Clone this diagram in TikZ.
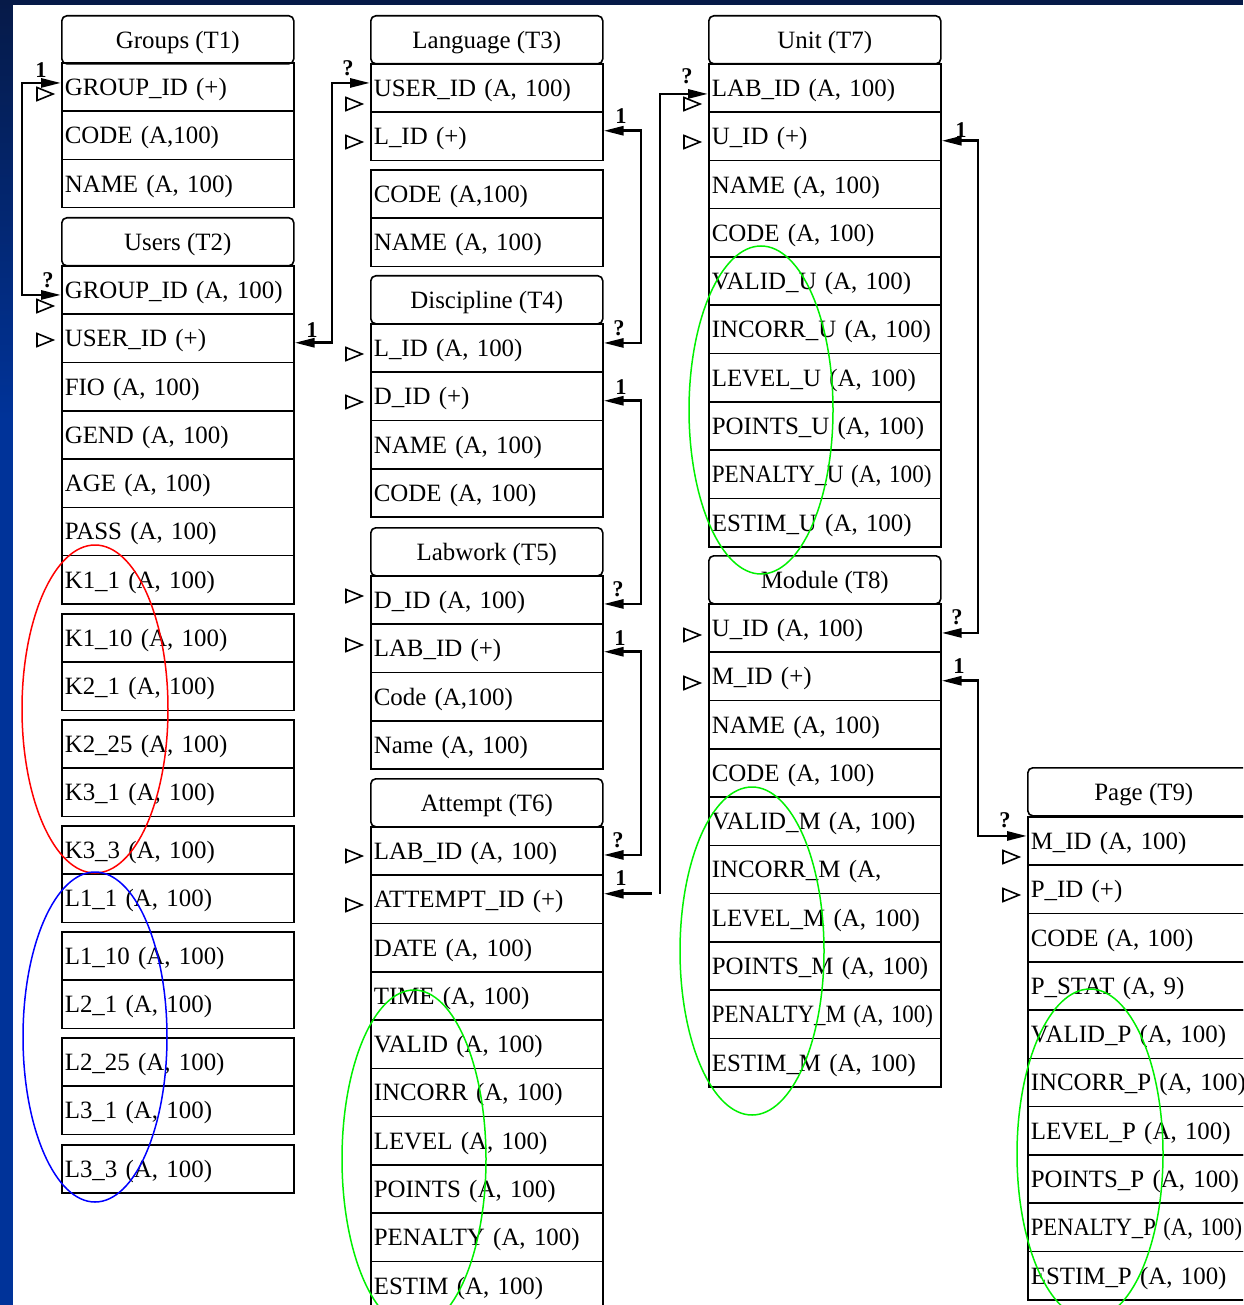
\documentclass[tikz,border=0pt]{standalone}
\usepackage{fontspec}
\setmainfont{Liberation Serif}
\usepackage{graphicx}
\usetikzlibrary{arrows.meta}
\definecolor{navytop}{HTML}{061A48}
\definecolor{bandblue}{HTML}{003399}
\definecolor{ovgreen}{HTML}{00F000}

% a run of table rows: prefix, x, top y, first index, list of texts
\newcommand\cells[5]{%
  \foreach \txt [count=\i from #4] in {#5} {%
    \node[cell] (#1-\i) at (#2, {#3 + (\i-#4)*48.3}) {\txt};
  }}
\newcommand\narrow[2]{\scalebox{#1}[1]{#2}}

\begin{document}
\begin{tikzpicture}[x=1pt, y=-1pt,
  >={Triangle[length=20pt,width=9pt]},
  cell/.style={draw, line width=1.6pt, minimum width=232pt, minimum height=48.3pt,
    text width=226pt, inner xsep=3pt, inner ysep=0pt, text height=17pt,
    text depth=0pt, align=left, anchor=north west,
    font=\fontsize{24.9}{30}\selectfont},
  head/.style={draw, rounded corners=5pt, line width=1.6pt, minimum width=232pt,
    minimum height=48pt, inner sep=0pt, text height=17pt, text depth=0pt,
    anchor=north west, font=\fontsize{24.9}{30}\selectfont},
  link/.style={line width=2.8pt},
  card/.style={font=\fontsize{22.5}{26}\bfseries\selectfont, inner sep=0pt},
  keytri/.pic={\draw[line width=1.6pt] (-8,-6.5) -- (8,0) -- (-8,6.5) -- cycle;},
  oval/.style={line width=1.5pt}
]
\useasboundingbox (0,0) rectangle (1243,1305);
\clip (0,0) rectangle (1243,1305);

% page background with the blue frame strips
\fill[white] (0,0) rectangle (1243,1305);
\shade[top color=navytop, bottom color=bandblue] (0,0) rectangle (12.5,420);
\fill[bandblue] (0,419) rectangle (12.5,1305);
\fill[navytop] (0,0) rectangle (1243,5);

% ---- Groups (T1), Users (T2)
\node[head] (t1) at (61,15) {Groups (T1)};
\cells{t1}{61}{62}{1}{{GROUP\_ID (+)},{CODE (A,100)},{NAME (A, 100)}}
\node[head] (t2) at (61,217) {Users (T2)};
\cells{t2}{61}{265}{1}{{GROUP\_ID (A, 100)},{USER\_ID (+)},{FIO (A, 100)},{GEND (A, 100)},{AGE (A, 100)},{PASS (A, 100)},{K1\_1 (A, 100)}}
\cells{t2}{61}{613}{8}{{K1\_10 (A, 100)},{K2\_1 (A, 100)}}
\cells{t2}{61}{719}{10}{{K2\_25 (A, 100)},{K3\_1 (A, 100)}}
\cells{t2}{61}{825}{12}{{K3\_3 (A, 100)},{L1\_1 (A, 100)}}
\cells{t2}{61}{931}{14}{{L1\_10 (A, 100)},{L2\_1 (A, 100)}}
\cells{t2}{61}{1037}{16}{{L2\_25 (A, 100)},{L3\_1 (A, 100)}}
\cells{t2}{61}{1144}{18}{{L3\_3 (A, 100)}}

% ---- Language (T3) .. Attempt (T6)
\node[head] (t3) at (370,15) {Language (T3)};
\cells{t3}{370}{63}{1}{{USER\_ID (A, 100)},{L\_ID (+)}}
\cells{t3}{370}{169}{3}{{CODE (A,100)},{NAME (A, 100)}}
\node[head] (t4) at (370,275) {Discipline (T4)};
\cells{t4}{370}{323}{1}{{L\_ID (A, 100)},{D\_ID (+)},{NAME (A, 100)},{CODE (A, 100)}}
\node[head] (t5) at (370,527) {Labwork (T5)};
\cells{t5}{370}{575}{1}{{D\_ID (A, 100)},{LAB\_ID (+)},{Code (A,100)},{Name (A, 100)}}
\node[head] (t6) at (370,778) {Attempt (T6)};
\cells{t6}{370}{826}{1}{{LAB\_ID (A, 100)},{ATTEMPT\_ID (+)},{DATE (A, 100)},{TIME (A, 100)},{VALID (A, 100)},{INCORR (A, 100)},{LEVEL (A, 100)},{POINTS (A, 100)},{PENALTY (A, 100)},{ESTIM (A, 100)}}

% ---- Unit (T7), Module (T8)
\node[head] (t7) at (708,15) {Unit (T7)};
\cells{t7}{708}{63}{1}{{LAB\_ID (A, 100)},{U\_ID (+)},{NAME (A, 100)},{CODE (A, 100)},{VALID\_U (A, 100)},{INCORR\_U (A, 100)},{LEVEL\_U (A, 100)},{POINTS\_U (A, 100)},{\narrow{0.93}{PENALTY\_U (A, 100)}},{ESTIM\_U (A, 100)}}
\node[head] (t8) at (708,555) {Module (T8)};
\cells{t8}{708}{603}{1}{{U\_ID (A, 100)},{M\_ID (+)},{NAME (A, 100)},{CODE (A, 100)},{VALID\_M (A, 100)},{INCORR\_M (A,},{LEVEL\_M (A, 100)},{POINTS\_M (A, 100)},{\narrow{0.92}{PENALTY\_M (A, 100)}},{ESTIM\_M (A, 100)}}

% ---- Page (T9)
\node[head] (t9) at (1027,767) {Page (T9)};
\cells{t9}{1027}{816}{1}{{M\_ID (A, 100)},{P\_ID (+)},{CODE (A, 100)},{P\_STAT (A, 9)},{VALID\_P (A, 100)},{INCORR\_P (A, 100)},{LEVEL\_P (A, 100)},{POINTS\_P (A, 100)},{\narrow{0.91}{PENALTY\_P (A, 100)}},{ESTIM\_P (A, 100)}}

% key markers
\foreach \px/\py in {45/94, 45/306, 45/340, 354/104, 354/142, 354/354, 354/402,
  354/596, 354/645, 354/856, 354/905, 692/104, 692/142, 692/635, 692/683,
  1011/857, 1011/895}
  \pic at (\px,\py) {keytri};

% relation ends
\coordinate (a1) at ([yshift=4pt]t1-1.west);
\coordinate (b1) at ([yshift=-5pt]t2-1.west);
\coordinate (a2) at ([yshift=-4.5pt]t2-2.east);
\coordinate (b2) at ([yshift=5pt]t3-1.west);
\coordinate (a3) at ([yshift=5.5pt]t3-2.east);
\coordinate (b3) at ([yshift=5pt]t4-1.east);
\coordinate (a4) at ([yshift=-4.5pt]t4-2.east);
\coordinate (b4) at ([yshift=-4pt]t5-1.east);
\coordinate (a5) at ([yshift=-3.5pt]t5-2.east);
\coordinate (b5) at ([yshift=-4pt]t6-1.east);
\coordinate (a6) at ([yshift=5.5pt]t6-2.east);
\coordinate (b6) at ([yshift=-6pt]t7-1.west);
\coordinate (a7) at ([yshift=-4.5pt]t7-2.east);
\coordinate (b7) at ([yshift=-5pt]t8-1.east);
\coordinate (a8) at ([yshift=-4.5pt]t8-2.east);
\coordinate (b8) at ([yshift=5pt]t9-1.west);
% vertical runs
\coordinate (j1) at (22,0);
\coordinate (j2) at (332,0);
\coordinate (j3) at (641,0);
\coordinate (j6a) at (652,0);
\coordinate (j6b) at (660,0);
\coordinate (j7) at (978,0);

\draw[link,<->] (a1) -- (j1 |- a1) -- (j1 |- b1) -- (b1);
\draw[link,<->] (a2) -- (j2 |- a2) -- (j2 |- b2) -- (b2);
\draw[link,<->] (a3) -- (j3 |- a3) -- (j3 |- b3) -- (b3);
\draw[link,<->] (a4) -- (j3 |- a4) -- (j3 |- b4) -- (b4);
\draw[link,<->] (a5) -- (j3 |- a5) -- (j3 |- b5) -- (b5);
\draw[link,<-] (a6) -- (j6a |- a6);
\draw[link,->] (j6b |- a6) -- (j6b |- b6) -- (b6);
\draw[link,<->] (a7) -- (j7 |- a7) -- (j7 |- b7) -- (b7);
\draw[link,<->] (a8) -- (j7 |- a8) -- (j7 |- b8) -- (b8);

% cardinalities
\node[card] (m1a) at (41,70) {1};
\node[card] (m1b) at (48,280) {?};
\node[card] (m2a) at (312,330) {1};
\node[card] (m2b) at (348,68) {?};
\node[card] (m3a) at (621,116) {1};
\node[card] (m3b) at (619,328) {?};
\node[card] (m4a) at (621,387) {1};
\node[card] (m4b) at (618,589) {?};
\node[card] (m5a) at (620,638) {1};
\node[card] (m5b) at (618,840) {?};
\node[card] (m6a) at (621,878) {1};
\node[card] (m6b) at (687,76) {?};
\node[card] (m7a) at (961,130) {1};
\node[card] (m7b) at (957,617) {?};
\node[card] (m8a) at (959,666) {1};
\node[card] (m8b) at (1005,820) {?};

% highlighted groups of fields
\draw[oval, red] (95,709) ellipse [x radius=73pt, y radius=164pt];
\draw[oval, blue] (95,1037) ellipse [x radius=72pt, y radius=165pt];
\draw[oval, ovgreen] (414,1159) ellipse [x radius=72pt, y radius=169pt];
\draw[oval, ovgreen] (761,410) ellipse [x radius=72pt, y radius=164pt];
\draw[oval, ovgreen] (752,951) ellipse [x radius=72pt, y radius=164pt];
\draw[oval, ovgreen] (1090,1154) ellipse [x radius=73pt, y radius=165pt];
\end{tikzpicture}
\end{document}
